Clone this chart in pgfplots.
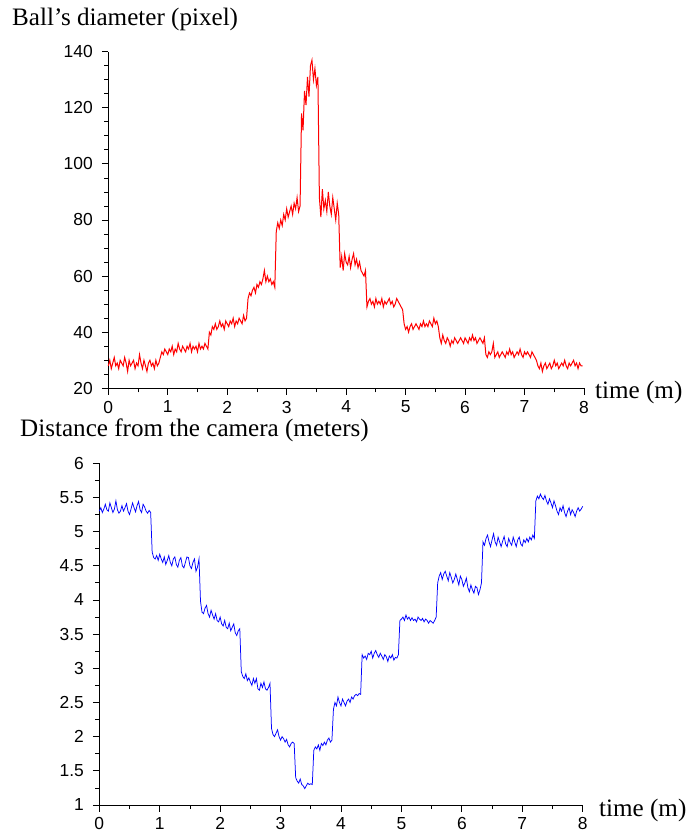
\documentclass[border=0pt]{standalone}
\usepackage{fontspec}
\setmainfont{Liberation Serif}
\newfontfamily\tickfont{Liberation Sans}
\usepackage{pgfplots}
\pgfplotsset{compat=1.18}
\pgfplotsset{
  myaxis/.style={
    scale only axis,
    axis lines=left,
    axis line style={-, line width=0.8bp, black},
    tick align=outside,
    major tick length=6.5bp,
    minor tick length=4bp,
    tick style={line width=0.8bp, black},
    xmin=0, xmax=8,
    xtick={0,1,...,8},
    minor x tick num=1,
    tick label style={font=\fontsize{17.5}{20}\tickfont, inner sep=0pt},
    xticklabel style={yshift=-6bp},
    yticklabel style={xshift=-8.8bp},
    /pgf/number format/assume math mode=true,
    clip=false,
  }
}
\begin{document}
\begin{tikzpicture}
\path[use as bounding box] (0,0) rectangle (698bp,839bp);
\begin{axis}[myaxis,
  at={(108.3bp,450.7bp)}, anchor=south west,
  width=475.7bp, height=336.6bp,
  ymin=20, ymax=140,
  ytick={20,40,...,140},
  minor y tick num=3]
\addplot[red, line width=1bp] coordinates {
(0,28)(0.025,30)(0.05,27)(0.075,29)(0.1,31)(0.125,28)(0.15,29)(0.175,27)
(0.2,30)(0.225,29)(0.25,28)(0.275,31)(0.3,29)(0.325,26)(0.35,30)(0.375,28)
(0.4,29)(0.425,30)(0.45,27)(0.475,29)(0.5,28)(0.525,32)(0.55,29)(0.575,27)
(0.6,30)(0.625,28)(0.65,26)(0.675,29)(0.7,30)(0.725,28)(0.75,29)(0.775,27)
(0.8,30)(0.825,28)(0.85,29)(0.875,31)(0.9,33)(0.925,32)(0.95,34)(0.975,33)
(1,32)(1.025,34)(1.05,33)(1.075,35)(1.1,32)(1.125,34)(1.15,33)(1.175,36)
(1.2,34)(1.225,33)(1.25,35)(1.275,34)(1.3,33)(1.325,35)(1.35,34)(1.375,36)
(1.4,33)(1.425,35)(1.45,34)(1.475,35)(1.5,33)(1.525,36)(1.55,34)(1.575,35)
(1.6,34)(1.625,36)(1.65,35)(1.675,34)(1.7,40)(1.725,39)(1.75,42)(1.775,41)
(1.8,43)(1.825,41)(1.85,42)(1.875,44)(1.9,42)(1.925,43)(1.95,41)(1.975,44)
(2,43)(2.025,42)(2.05,44)(2.075,43)(2.1,45)(2.125,42)(2.15,44)(2.175,43)
(2.2,45)(2.225,44)(2.25,43)(2.275,46)(2.3,44)(2.325,45)(2.35,52)(2.375,54)
(2.4,53)(2.425,55)(2.45,56)(2.475,54)(2.5,57)(2.525,56)(2.55,58)(2.575,57)
(2.6,59)(2.625,62)(2.65,58)(2.675,60)(2.7,58)(2.725,59)(2.75,57)(2.775,58)
(2.8,56)(2.825,76)(2.85,79)(2.875,77)(2.9,80)(2.925,78)(2.95,82)(2.975,80)
(3,84)(3.025,81)(3.05,83)(3.075,85)(3.1,82)(3.125,86)(3.15,84)(3.175,88)
(3.2,83)(3.225,85)(3.25,118)(3.275,112)(3.3,126)(3.325,121)(3.35,131)(3.375,124)
(3.4,135)(3.425,137)(3.45,130)(3.475,134)(3.5,128)(3.525,131)(3.55,88)(3.575,81)
(3.6,91)(3.625,84)(3.65,87)(3.675,83)(3.7,90)(3.725,85)(3.75,82)(3.775,88)
(3.8,84)(3.825,80)(3.85,86)(3.875,82)(3.9,63)(3.925,67)(3.95,62)(3.975,68)
(4,65)(4.025,64)(4.05,67)(4.075,63)(4.1,66)(4.125,68)(4.15,64)(4.175,66)
(4.2,63)(4.225,65)(4.25,62)(4.275,61)(4.3,60)(4.325,62)(4.35,49)(4.375,51)
(4.4,52)(4.425,50)(4.45,51)(4.475,49)(4.5,52)(4.525,50)(4.55,51)(4.575,50)
(4.6,52)(4.625,49)(4.65,51)(4.675,50)(4.7,51)(4.725,52)(4.75,50)(4.775,51)
(4.8,49)(4.825,50)(4.85,52)(4.875,51)(4.9,50)(4.925,49)(4.95,48)(4.975,43)
(5,41)(5.025,42)(5.05,40)(5.075,42)(5.1,43)(5.125,41)(5.15,42)(5.175,43)
(5.2,42)(5.225,41)(5.25,43)(5.275,42)(5.3,44)(5.325,42)(5.35,43)(5.375,42)
(5.4,44)(5.425,43)(5.45,42)(5.475,45)(5.5,43)(5.525,44)(5.55,42)(5.575,38)
(5.6,36)(5.625,39)(5.65,37)(5.675,36)(5.7,38)(5.725,37)(5.75,35)(5.775,37)
(5.8,36)(5.825,38)(5.85,37)(5.875,36)(5.9,37)(5.925,38)(5.95,37)(5.975,36)
(6,38)(6.025,37)(6.05,36)(6.075,38)(6.1,37)(6.125,39)(6.15,37)(6.175,38)
(6.2,36)(6.225,37)(6.25,38)(6.275,37)(6.3,36)(6.325,38)(6.35,32)(6.375,31)
(6.4,33)(6.425,32)(6.45,33)(6.475,36)(6.5,31)(6.525,32)(6.55,33)(6.575,31)
(6.6,32)(6.625,33)(6.65,32)(6.675,31)(6.7,33)(6.725,32)(6.75,34)(6.775,32)
(6.8,33)(6.825,31)(6.85,32)(6.875,33)(6.9,32)(6.925,34)(6.95,32)(6.975,31)
(7,33)(7.025,32)(7.05,33)(7.075,32)(7.1,31)(7.125,33)(7.15,32)(7.175,31)
(7.2,30)(7.225,28)(7.25,27)(7.275,29)(7.3,26)(7.325,28)(7.35,29)(7.375,27)
(7.4,28)(7.425,29)(7.45,27)(7.475,28)(7.5,30)(7.525,28)(7.55,29)(7.575,27)
(7.6,28)(7.625,29)(7.65,28)(7.675,30)(7.7,28)(7.725,27)(7.75,29)(7.775,28)
(7.8,29)(7.825,30)(7.85,28)(7.875,29)(7.9,27)(7.925,29)(7.95,28)(7.975,28)
};
\end{axis}
\begin{axis}[myaxis,
  at={(99.3bp,34bp)}, anchor=south west,
  width=483.4bp, height=341.7bp,
  ymin=1, ymax=6,
  ytick={1,1.5,...,6},
  minor y tick num=1]
\addplot[blue, line width=0.75bp] coordinates {
(0,5.30)(0.025,5.35)(0.05,5.28)(0.075,5.33)(0.1,5.40)(0.125,5.32)(0.15,5.30)(0.175,5.42)
(0.2,5.35)(0.225,5.28)(0.25,5.33)(0.275,5.45)(0.3,5.32)(0.325,5.27)(0.35,5.30)(0.375,5.38)
(0.4,5.30)(0.425,5.35)(0.45,5.41)(0.475,5.30)(0.5,5.25)(0.525,5.33)(0.55,5.42)(0.575,5.35)
(0.6,5.29)(0.625,5.38)(0.65,5.44)(0.675,5.32)(0.7,5.28)(0.725,5.40)(0.75,5.36)(0.775,5.30)
(0.8,5.27)(0.825,5.31)(0.85,5.28)(0.875,4.70)(0.9,4.62)(0.925,4.60)(0.95,4.65)(0.975,4.58)
(1,4.67)(1.025,4.60)(1.05,4.55)(1.075,4.63)(1.1,4.52)(1.125,4.58)(1.15,4.65)(1.175,4.55)
(1.2,4.50)(1.225,4.60)(1.25,4.63)(1.275,4.52)(1.3,4.48)(1.325,4.58)(1.35,4.62)(1.375,4.50)
(1.4,4.47)(1.425,4.55)(1.45,4.63)(1.475,4.62)(1.5,4.50)(1.525,4.46)(1.55,4.55)(1.575,4.60)
(1.6,4.42)(1.625,4.48)(1.65,4.60)(1.675,3.98)(1.7,3.82)(1.725,3.80)(1.75,3.88)(1.775,3.92)
(1.8,3.80)(1.825,3.75)(1.85,3.85)(1.875,3.78)(1.9,3.72)(1.925,3.80)(1.95,3.70)(1.975,3.68)
(2,3.75)(2.025,3.65)(2.05,3.62)(2.075,3.70)(2.1,3.60)(2.125,3.58)(2.15,3.66)(2.175,3.55)
(2.2,3.60)(2.225,3.65)(2.25,3.52)(2.275,3.48)(2.3,3.55)(2.325,3.58)(2.35,2.95)(2.375,2.88)
(2.4,2.85)(2.425,2.92)(2.45,2.82)(2.475,2.86)(2.5,2.80)(2.525,2.75)(2.55,2.85)(2.575,2.78)
(2.6,2.85)(2.625,2.70)(2.65,2.68)(2.675,2.78)(2.7,2.72)(2.725,2.80)(2.75,2.70)(2.775,2.68)
(2.8,2.72)(2.825,2.78)(2.85,2.12)(2.875,2.03)(2.9,2.00)(2.925,2.05)(2.95,2.10)(2.975,2.00)
(3,1.95)(3.025,2.00)(3.05,1.97)(3.075,1.92)(3.1,1.96)(3.125,1.88)(3.15,1.85)(3.175,1.90)
(3.2,1.92)(3.225,1.90)(3.25,1.40)(3.275,1.35)(3.3,1.32)(3.325,1.38)(3.35,1.30)(3.375,1.28)
(3.4,1.24)(3.425,1.28)(3.45,1.32)(3.475,1.30)(3.5,1.31)(3.525,1.30)(3.55,1.80)(3.575,1.85)
(3.6,1.82)(3.625,1.88)(3.65,1.80)(3.675,1.90)(3.7,1.87)(3.725,1.92)(3.75,1.88)(3.775,1.95)
(3.8,1.98)(3.825,1.92)(3.85,1.95)(3.875,2.40)(3.9,2.50)(3.925,2.45)(3.95,2.58)(3.975,2.50)
(4,2.45)(4.025,2.55)(4.05,2.50)(4.075,2.45)(4.1,2.52)(4.125,2.55)(4.15,2.50)(4.175,2.58)
(4.2,2.55)(4.225,2.60)(4.25,2.62)(4.275,2.60)(4.3,2.63)(4.325,2.62)(4.35,3.20)(4.375,3.15)
(4.4,3.18)(4.425,3.13)(4.45,3.22)(4.475,3.20)(4.5,3.25)(4.525,3.15)(4.55,3.22)(4.575,3.26)
(4.6,3.20)(4.625,3.16)(4.65,3.22)(4.675,3.18)(4.7,3.13)(4.725,3.20)(4.75,3.17)(4.775,3.10)
(4.8,3.18)(4.825,3.15)(4.85,3.20)(4.875,3.12)(4.9,3.16)(4.925,3.15)(4.95,3.20)(4.975,3.70)
(5,3.72)(5.025,3.75)(5.05,3.70)(5.075,3.78)(5.1,3.72)(5.125,3.75)(5.15,3.70)(5.175,3.74)
(5.2,3.70)(5.225,3.72)(5.25,3.68)(5.275,3.75)(5.3,3.72)(5.325,3.70)(5.35,3.73)(5.375,3.68)
(5.4,3.72)(5.425,3.70)(5.45,3.66)(5.475,3.70)(5.5,3.68)(5.525,3.66)(5.55,3.70)(5.575,3.75)
(5.6,4.25)(5.625,4.35)(5.65,4.40)(5.675,4.30)(5.7,4.38)(5.725,4.42)(5.75,4.35)(5.775,4.28)
(5.8,4.40)(5.825,4.33)(5.85,4.25)(5.875,4.30)(5.9,4.38)(5.925,4.30)(5.95,4.22)(5.975,4.35)
(6,4.30)(6.025,4.20)(6.05,4.25)(6.075,4.32)(6.1,4.18)(6.125,4.12)(6.15,4.22)(6.175,4.15)
(6.2,4.10)(6.225,4.20)(6.25,4.18)(6.275,4.08)(6.3,4.15)(6.325,4.25)(6.35,4.85)(6.375,4.80)
(6.4,4.90)(6.425,4.95)(6.45,4.85)(6.475,4.78)(6.5,4.88)(6.525,4.97)(6.55,4.85)(6.575,4.80)
(6.6,4.92)(6.625,4.85)(6.65,4.78)(6.675,4.86)(6.7,4.93)(6.725,4.82)(6.75,4.78)(6.775,4.90)
(6.8,4.84)(6.825,4.80)(6.85,4.92)(6.875,4.85)(6.9,4.78)(6.925,4.88)(6.95,4.92)(6.975,4.82)
(7,4.79)(7.025,4.88)(7.05,4.84)(7.075,4.90)(7.1,4.85)(7.125,4.92)(7.15,4.88)(7.175,4.95)
(7.2,4.90)(7.225,5.45)(7.25,5.52)(7.275,5.48)(7.3,5.55)(7.325,5.50)(7.35,5.47)(7.375,5.53)
(7.4,5.45)(7.425,5.40)(7.45,5.48)(7.475,5.42)(7.5,5.35)(7.525,5.45)(7.55,5.38)(7.575,5.30)
(7.6,5.25)(7.625,5.35)(7.65,5.30)(7.675,5.38)(7.7,5.28)(7.725,5.22)(7.75,5.30)(7.775,5.35)
(7.8,5.25)(7.825,5.32)(7.85,5.28)(7.875,5.22)(7.9,5.30)(7.925,5.35)(7.95,5.30)(7.975,5.33)
(8,5.37)
};
\end{axis}
\begin{scope}[every node/.style={inner sep=0pt, anchor=base west, font=\fontsize{25.2}{29}\selectfont}]
\node at (12bp,813.3bp) {Ball's diameter (pixel)};
\node at (20bp,402bp) {Distance from the camera (meters)};
\node at (595bp,440.7bp) {time (m)};
\node at (599bp,22.3bp) {time (m)};
\end{scope}
\end{tikzpicture}
\end{document}
